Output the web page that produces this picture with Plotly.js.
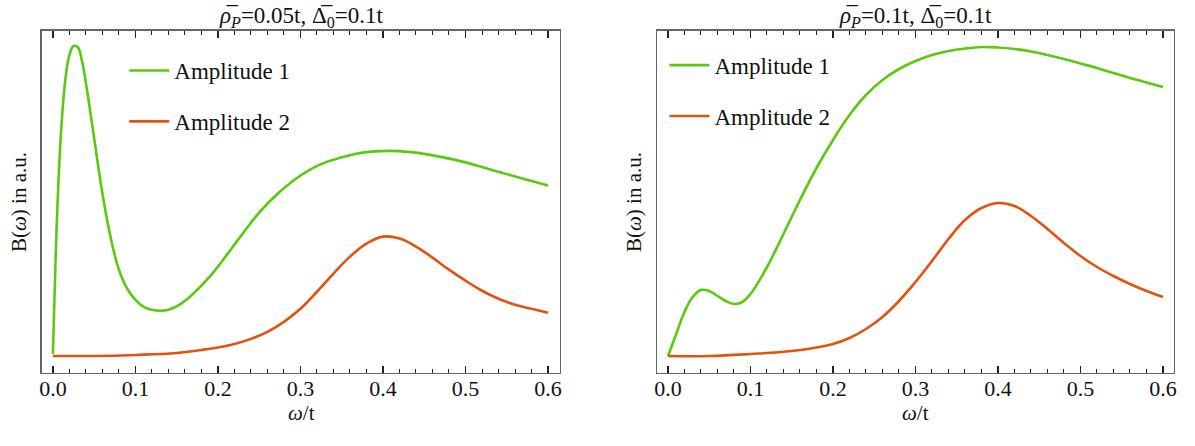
<!DOCTYPE html>
<html><head><meta charset="utf-8">
<script src="https://cdn.plot.ly/plotly-3.0.1.min.js"></script>
<style>html,body{margin:0;padding:0;background:#fff}#c{width:1195px;height:446px}</style>
</head><body><div id="c"></div>
<script>
// Left panel (rho_P = 0.05t)
const leftX1 = [0, 0.003, 0.006, 0.01, 0.015, 0.02, 0.025, 0.03, 0.035, 0.04, 0.045, 0.05, 0.06, 0.07, 0.08, 0.09, 0.1, 0.11, 0.12, 0.13, 0.14, 0.155, 0.17, 0.19, 0.21, 0.23, 0.25, 0.27, 0.29, 0.31, 0.33, 0.35, 0.37, 0.39, 0.41, 0.43, 0.45, 0.47, 0.5, 0.53, 0.56, 0.6];
const leftY1 = [0.02, 0.9, 1.6, 2.25, 2.75, 3.0, 3.09, 3.08, 2.95, 2.72, 2.45, 2.17, 1.62, 1.18, 0.86, 0.67, 0.56, 0.49, 0.46, 0.45, 0.46, 0.52, 0.62, 0.79, 1.0, 1.22, 1.43, 1.6, 1.74, 1.85, 1.93, 1.98, 2.02, 2.04, 2.045, 2.035, 2.015, 1.985, 1.93, 1.86, 1.79, 1.7];
const leftX2 = [0, 0.05, 0.1, 0.15, 0.18, 0.2, 0.22, 0.24, 0.26, 0.28, 0.3, 0.32, 0.34, 0.36, 0.38, 0.4, 0.42, 0.44, 0.46, 0.48, 0.5, 0.52, 0.54, 0.56, 0.58, 0.6];
const leftY2 = [0, 0, 0.01, 0.03, 0.06, 0.085, 0.12, 0.17, 0.24, 0.34, 0.47, 0.64, 0.82, 0.99, 1.12, 1.19, 1.17, 1.09, 0.98, 0.86, 0.75, 0.65, 0.57, 0.51, 0.47, 0.43];
// Right panel (rho_P = 0.1t)
const rightX1 = [0, 0.01, 0.02, 0.03, 0.04, 0.05, 0.06, 0.07, 0.08, 0.09, 0.1, 0.12, 0.14, 0.16, 0.18, 0.2, 0.22, 0.24, 0.26, 0.28, 0.3, 0.32, 0.34, 0.36, 0.38, 0.4, 0.42, 0.44, 0.46, 0.48, 0.5, 0.52, 0.54, 0.56, 0.58, 0.6];
const rightY1 = [0, 0.22, 0.44, 0.59, 0.66, 0.65, 0.6, 0.55, 0.52, 0.54, 0.62, 0.89, 1.22, 1.56, 1.88, 2.16, 2.41, 2.61, 2.76, 2.87, 2.95, 3.01, 3.05, 3.075, 3.09, 3.085, 3.07, 3.045, 3.01, 2.97, 2.925, 2.88, 2.83, 2.78, 2.735, 2.69];
const rightX2 = [0, 0.05, 0.1, 0.15, 0.18, 0.2, 0.22, 0.24, 0.26, 0.28, 0.3, 0.32, 0.34, 0.36, 0.38, 0.4, 0.42, 0.44, 0.46, 0.48, 0.5, 0.52, 0.54, 0.56, 0.58, 0.6];
const rightY2 = [0, 0, 0.02, 0.05, 0.085, 0.12, 0.18, 0.27, 0.39, 0.55, 0.74, 0.95, 1.17, 1.36, 1.48, 1.53, 1.5, 1.4, 1.27, 1.13, 1.0, 0.89, 0.8, 0.72, 0.65, 0.59];

const seriesNames = ["Amplitude 1", "Amplitude 2"];
const tickLabels = ["0.0", "0.1", "0.2", "0.3", "0.4", "0.5", "0.6"];
const tickVals = [0, 0.1, 0.2, 0.3, 0.4, 0.5, 0.6];
const minorVals = [0.02,0.04,0.06,0.08,0.12,0.14,0.16,0.18,0.22,0.24,0.26,0.28,0.32,0.34,0.36,0.38,0.42,0.44,0.46,0.48,0.52,0.54,0.56,0.58];
const green = "#5BC90F", orange = "#E2530F";
const serif = "Liberation Serif";

function tr(x, y, name, color, xa, ya, lg, grp) {
  return {x: x, y: y, name: name, type: "scatter", mode: "lines",
    line: {color: color, width: 2.6, shape: "spline", smoothing: 1.2},
    xaxis: xa, yaxis: ya, legend: lg, legendgroup: grp};
}
const data = [
  tr(leftX1, leftY1, seriesNames[0], green, "x", "y", "legend", "a"),
  tr(leftX2, leftY2, seriesNames[1], orange, "x", "y", "legend", "b"),
  tr(rightX1, rightY1, seriesNames[0], green, "x2", "y2", "legend2", "c"),
  tr(rightX2, rightY2, seriesNames[1], orange, "x2", "y2", "legend2", "d")
];

function xax(dom, anchor, range) {
  return {domain: dom, anchor: anchor, range: range, tickvals: tickVals, ticktext: tickLabels,
    ticks: "inside", ticklen: 7, tickwidth: 1.2, tickcolor: "#222", ticklabelstandoff: -5,
    minor: {tickvals: minorVals, ticks: "inside", ticklen: 4, tickcolor: "#222", tickwidth: 1},
    showline: true, linecolor: "#666", linewidth: 1.5, mirror: "ticks", showgrid: false, zeroline: false,
    tickfont: {family: serif, size: 22, color: "#111"}};
}
function yax(dom, anchor, range) {
  return {domain: dom, anchor: anchor, range: range, showticklabels: false, ticks: "",
    showline: true, linecolor: "#666", linewidth: 1.5, mirror: true, showgrid: false, zeroline: false,
    title: {text: "B(<i>ω</i>) in a.u.", font: {family: serif, size: 21, color: "#111"}, standoff: 8}};
}
const yd = [0.1637, 0.9305];
const legFont = {family: serif, size: 23, color: "#111"};
const titleFont = {family: serif, size: 23, color: "#111"};
const axFont = {family: serif, size: 21, color: "#111"};
const layout = {
  width: 1195, height: 446, margin: {l: 0, r: 0, t: 0, b: 0},
  font: {family: serif, size: 20, color: "#111"},
  paper_bgcolor: "#fff", plot_bgcolor: "#fff", showlegend: true,
  xaxis: xax([0.0351, 0.4686], "y", [-0.0133, 0.6145]), yaxis: yax(yd, "x", [-0.17, 3.24]),
  xaxis2: xax([0.5498, 0.9824], "y2", [-0.0133, 0.6133]), yaxis2: yax(yd, "x2", [-0.17, 3.25]),
  legend: {x: 0.104, y: 0.89, xanchor: "left", yanchor: "top", traceorder: "grouped", tracegroupgap: 18,
    font: legFont, bgcolor: "rgba(0,0,0,0)", itemwidth: 40},
  legend2: {x: 0.556, y: 0.902, xanchor: "left", yanchor: "top", traceorder: "grouped", tracegroupgap: 18,
    font: legFont, bgcolor: "rgba(0,0,0,0)", itemwidth: 40},
  annotations: [
    {text: "<i>ρ̅</i><sub><i>P</i></sub>=0.05t, Δ̅<sub>0</sub>=0.1t", xref: "paper", yref: "paper", x: 0.252, y: 0.998, xanchor: "center", yanchor: "top", showarrow: false, font: titleFont},
    {text: "<i>ρ̅</i><sub><i>P</i></sub>=0.1t, Δ̅<sub>0</sub>=0.1t", xref: "paper", yref: "paper", x: 0.766, y: 0.998, xanchor: "center", yanchor: "top", showarrow: false, font: titleFont},
    {text: "<i>ω</i>/t", xref: "paper", yref: "paper", x: 0.252, y: 0.074, xanchor: "center", yanchor: "middle", showarrow: false, font: axFont},
    {text: "<i>ω</i>/t", xref: "paper", yref: "paper", x: 0.766, y: 0.074, xanchor: "center", yanchor: "middle", showarrow: false, font: axFont}
  ]
};
Plotly.newPlot("c", data, layout, {staticPlot: true});
</script></body></html>
